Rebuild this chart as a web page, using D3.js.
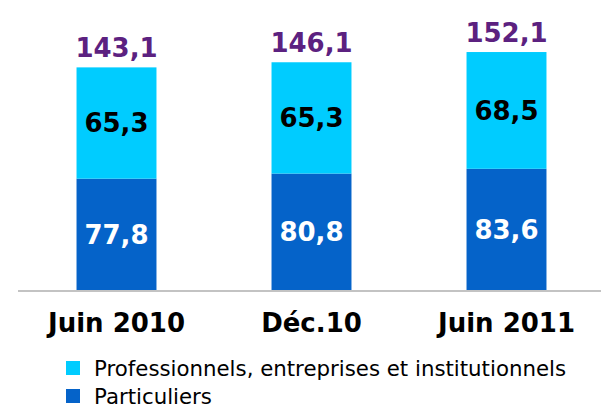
<!DOCTYPE html>
<html>
<head>
<meta charset="utf-8">
<script src="https://cdn.jsdelivr.net/npm/d3@7"></script>
<style>
body { margin: 0; background: #fff; }
text { font-family: "DejaVu Sans", Verdana, sans-serif; }
</style>
</head>
<body>
<div id="chart"></div>
<script>
var periods = ["Juin 2010", "Déc.10", "Juin 2011"];
var particuliers = [77.8, 80.8, 83.6];
var professionnels = [65.3, 65.3, 68.5];
var totals = [143.1, 146.1, 152.1];
var seriesNames = ["Professionnels, entreprises et institutionnels", "Particuliers"];

var width = 601, height = 406;
var fmt = function(v) { return d3.format(".1f")(v).replace(".", ","); };

var svg = d3.select("#chart")
  .append("svg")
  .attr("width", width)
  .attr("height", height);

var x = d3.scaleBand()
  .domain(periods)
  .range([19, 604])
  .paddingInner(0.59)
  .paddingOuter(0.295);

var y = d3.scaleLinear()
  .domain([12.5, 175])
  .range([290, 13]);

var data = periods.map(function(p, i) {
  return { period: p, part: particuliers[i], pro: professionnels[i], total: totals[i] };
});

// bottom segment
svg.selectAll(".part")
  .data(data)
  .enter()
  .append("rect")
  .attr("class", "part")
  .attr("x", function(d) { return x(d.period); })
  .attr("width", x.bandwidth())
  .attr("y", function(d) { return y(d.part); })
  .attr("height", function(d) { return y.range()[0] - y(d.part); })
  .attr("fill", "#0563c9");

// top segment
svg.selectAll(".pro")
  .data(data)
  .enter()
  .append("rect")
  .attr("class", "pro")
  .attr("x", function(d) { return x(d.period); })
  .attr("width", x.bandwidth())
  .attr("y", function(d) { return y(d.part + d.pro); })
  .attr("height", function(d) { return y(d.part) - y(d.part + d.pro); })
  .attr("fill", "#00ccff");

// baseline
svg.append("line")
  .attr("x1", 18).attr("x2", 601)
  .attr("y1", 291).attr("y2", 291)
  .attr("stroke", "#c3c3c3")
  .attr("stroke-width", 2);

// labels inside bars
svg.selectAll(".lblPart")
  .data(data)
  .enter()
  .append("text")
  .attr("x", function(d) { return x(d.period) + x.bandwidth() / 2; })
  .attr("y", function(d) { return (y.range()[0] + y(d.part)) / 2; })
  .attr("dy", "0.36em")
  .attr("text-anchor", "middle")
  .attr("font-size", 26)
  .attr("font-weight", "bold")
  .attr("fill", "#fff")
  .text(function(d) { return fmt(d.part); });

svg.selectAll(".lblPro")
  .data(data)
  .enter()
  .append("text")
  .attr("x", function(d) { return x(d.period) + x.bandwidth() / 2; })
  .attr("y", function(d) { return (y(d.part) + y(d.part + d.pro)) / 2; })
  .attr("dy", "0.36em")
  .attr("text-anchor", "middle")
  .attr("font-size", 26)
  .attr("font-weight", "bold")
  .attr("fill", "#000")
  .text(function(d) { return fmt(d.pro); });

// totals
svg.selectAll(".lblTot")
  .data(data)
  .enter()
  .append("text")
  .attr("x", function(d) { return x(d.period) + x.bandwidth() / 2; })
  .attr("y", function(d) { return y(d.total) - 10; })
  .attr("text-anchor", "middle")
  .attr("font-size", 26)
  .attr("font-weight", "bold")
  .attr("fill", "#5c2180")
  .text(function(d) { return fmt(d.total); });

// x axis labels
var xAxis = svg.append("g")
  .attr("transform", "translate(0,291)")
  .call(d3.axisBottom(x).tickSize(0).tickPadding(23));
xAxis.select(".domain").remove();
xAxis.selectAll("text")
  .attr("font-size", 26)
  .attr("font-weight", "bold")
  .attr("fill", "#000")
  .style("font-family", "'DejaVu Sans', Verdana, sans-serif");

// legend
var legend = svg.selectAll(".legend")
  .data(seriesNames)
  .enter()
  .append("g")
  .attr("class", "legend")
  .attr("transform", function(d, i) { return "translate(66," + (361 + i * 28) + ")"; });

legend.append("rect")
  .attr("width", 14)
  .attr("height", 14)
  .attr("fill", function(d, i) { return i === 0 ? "#00ccff" : "#0563c9"; });

legend.append("text")
  .attr("x", 28)
  .attr("y", 15)
  .attr("font-size", 21.3)
  .attr("fill", "#000")
  .text(function(d) { return d; });
</script>
</body>
</html>
